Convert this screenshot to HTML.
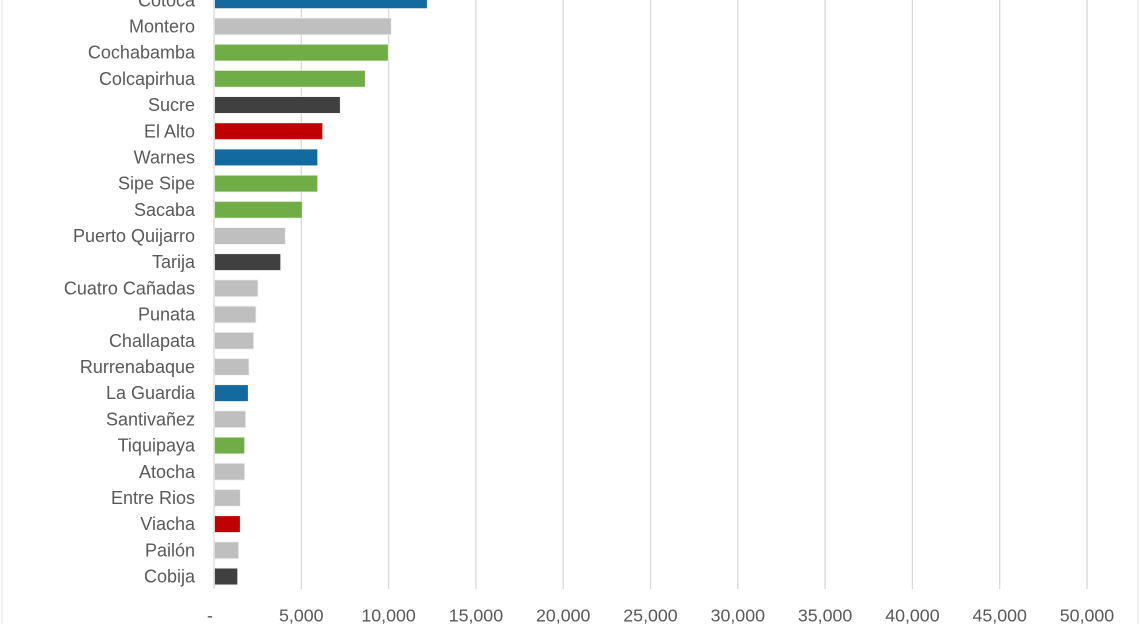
<!DOCTYPE html>
<html><head><meta charset="utf-8"><style>
html,body{margin:0;padding:0;background:#fff;}
svg{display:block;}
text{font-family:"Liberation Sans",sans-serif;fill:#595959;}
</style></head><body>
<svg width="1140" height="624" viewBox="0 0 1140 624" xmlns="http://www.w3.org/2000/svg">
<rect x="0" y="0" width="1140" height="624" fill="#fff"/>
<line x1="2" y1="0" x2="2" y2="624" stroke="#e6e6e6" stroke-width="1"/>
<line x1="1138" y1="0" x2="1138" y2="624" stroke="#e6e6e6" stroke-width="1"/>
<g stroke="#d9d9d9" stroke-width="1.3">
<line x1="301.3" y1="0" x2="301.3" y2="589"/>
<line x1="388.6" y1="0" x2="388.6" y2="589"/>
<line x1="475.9" y1="0" x2="475.9" y2="589"/>
<line x1="563.2" y1="0" x2="563.2" y2="589"/>
<line x1="650.5" y1="0" x2="650.5" y2="589"/>
<line x1="737.8" y1="0" x2="737.8" y2="589"/>
<line x1="825.1" y1="0" x2="825.1" y2="589"/>
<line x1="912.4" y1="0" x2="912.4" y2="589"/>
<line x1="999.7" y1="0" x2="999.7" y2="589"/>
<line x1="1087" y1="0" x2="1087" y2="589"/>
</g>
<g stroke="#f2f2f2" stroke-width="0.8">
<rect x="214.5" y="-8.2" width="212.8" height="16.8" fill="#136a9f"/>
<rect x="214.5" y="18" width="176.8" height="16.8" fill="#bfbfbf"/>
<rect x="214.5" y="44.2" width="173.8" height="16.8" fill="#70ad47"/>
<rect x="214.5" y="70.4" width="150.8" height="16.8" fill="#70ad47"/>
<rect x="214.5" y="96.6" width="125.8" height="16.8" fill="#404040"/>
<rect x="214.5" y="122.8" width="108.2" height="16.8" fill="#c00000"/>
<rect x="214.5" y="149" width="103.2" height="16.8" fill="#136a9f"/>
<rect x="214.5" y="175.2" width="103.2" height="16.8" fill="#70ad47"/>
<rect x="214.5" y="201.4" width="87.8" height="16.8" fill="#70ad47"/>
<rect x="214.5" y="227.6" width="70.8" height="16.8" fill="#bfbfbf"/>
<rect x="214.5" y="253.7" width="66.2" height="16.8" fill="#404040"/>
<rect x="214.5" y="279.9" width="43.5" height="16.8" fill="#bfbfbf"/>
<rect x="214.5" y="306.1" width="41.5" height="16.8" fill="#bfbfbf"/>
<rect x="214.5" y="332.3" width="39.2" height="16.8" fill="#bfbfbf"/>
<rect x="214.5" y="358.5" width="34.5" height="16.8" fill="#bfbfbf"/>
<rect x="214.5" y="384.7" width="33.8" height="16.8" fill="#136a9f"/>
<rect x="214.5" y="410.9" width="31.2" height="16.8" fill="#bfbfbf"/>
<rect x="214.5" y="437.1" width="30.2" height="16.8" fill="#70ad47"/>
<rect x="214.5" y="463.3" width="30.2" height="16.8" fill="#bfbfbf"/>
<rect x="214.5" y="489.5" width="25.8" height="16.8" fill="#bfbfbf"/>
<rect x="214.5" y="515.7" width="25.8" height="16.8" fill="#c00000"/>
<rect x="214.5" y="541.9" width="24.2" height="16.8" fill="#bfbfbf"/>
<rect x="214.5" y="568.1" width="23.2" height="16.8" fill="#404040"/>
</g>
<line x1="214" y1="0" x2="214" y2="589" stroke="#d9d9d9" stroke-width="1.3"/>
<g font-size="18" text-anchor="end">
<text x="195" y="6.3">Cotoca</text>
<text x="195" y="32.5">Montero</text>
<text x="195" y="58.7">Cochabamba</text>
<text x="195" y="84.9">Colcapirhua</text>
<text x="195" y="111.1">Sucre</text>
<text x="195" y="137.3">El Alto</text>
<text x="195" y="163.5">Warnes</text>
<text x="195" y="189.7">Sipe Sipe</text>
<text x="195" y="215.9">Sacaba</text>
<text x="195" y="242.1">Puerto Quijarro</text>
<text x="195" y="268.2">Tarija</text>
<text x="195" y="294.4">Cuatro Cañadas</text>
<text x="195" y="320.6">Punata</text>
<text x="195" y="346.8">Challapata</text>
<text x="195" y="373">Rurrenabaque</text>
<text x="195" y="399.2">La Guardia</text>
<text x="195" y="425.4">Santivañez</text>
<text x="195" y="451.6">Tiquipaya</text>
<text x="195" y="477.8">Atocha</text>
<text x="195" y="504">Entre Rios</text>
<text x="195" y="530.2">Viacha</text>
<text x="195" y="556.4">Pailón</text>
<text x="195" y="582.6">Cobija</text>
</g>
<g font-size="17.8" text-anchor="middle">
<text x="210" y="621.5">-</text>
<text x="301.3" y="621.5">5,000</text>
<text x="388.6" y="621.5">10,000</text>
<text x="475.9" y="621.5">15,000</text>
<text x="563.2" y="621.5">20,000</text>
<text x="650.5" y="621.5">25,000</text>
<text x="737.8" y="621.5">30,000</text>
<text x="825.1" y="621.5">35,000</text>
<text x="912.4" y="621.5">40,000</text>
<text x="999.7" y="621.5">45,000</text>
<text x="1087" y="621.5">50,000</text>
</g>
</svg>
</body></html>
